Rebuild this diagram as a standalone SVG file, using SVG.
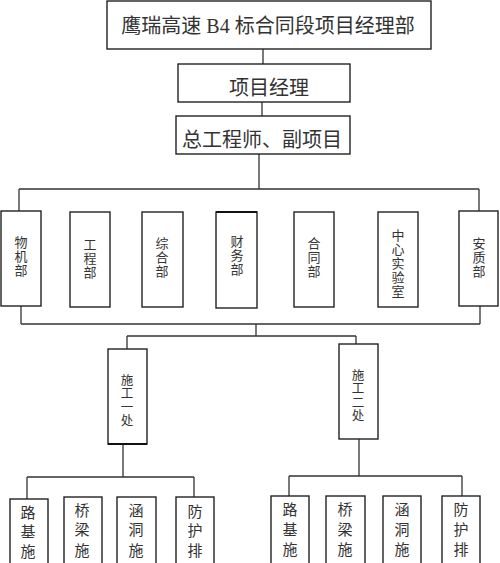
<svg xmlns="http://www.w3.org/2000/svg" width="500" height="563" viewBox="0 0 500 563">
<style>
.box{fill:#fff;stroke:#222;stroke-width:1.4}
.ln{fill:none;stroke:#333;stroke-width:1.3}
text{font-family:"Liberation Serif","Noto Sans CJK SC",serif;fill:#333;text-anchor:middle}
.big{font-size:20px}
.dep{font-size:13px}
.sg{font-size:12.5px}
.sub{font-size:15px}
</style>
<rect width="500" height="563" fill="#fff"/>
<g id="connectors">
<path class="ln" d="M263,49V64M262,102V116M259,154V189M19,189H479M19,189V212M479,189V211"/>
<path class="ln" d="M21,306V324M480,306V324M21,324H480M256,324V336M127,336H356M127,336V349M356,336V344"/>
<path class="ln" d="M123,444V477M27,477H194M27,477V499M194,477V497"/>
<path class="ln" d="M359,439V476M289,476H462M289,476V496M462,476V496"/>
</g>
<g id="n-top"><rect class="box" x="107" y="1" width="324" height="48"/><text class="big" x="268" y="33" font-size="19.5">鹰瑞高速 B4 标合同段项目经理部</text></g>
<g id="n-pm"><rect class="box" x="178" y="64" width="172" height="38"/><text class="big" x="269" y="95">项目经理</text></g>
<g id="n-ce"><rect class="box" x="176" y="116" width="174" height="38"/><text class="big" x="262" y="147">总工程师、副项目</text></g>
<g id="n-wj"><rect class="box" x="1" y="211" width="40" height="95"/><text class="dep"><tspan x="21" y="247">物</tspan><tspan x="21" y="261">机</tspan><tspan x="21" y="275">部</tspan></text></g>
<g id="n-gc"><rect class="box" x="70" y="212" width="40" height="95"/><text class="dep"><tspan x="90" y="249">工</tspan><tspan x="90" y="263">程</tspan><tspan x="90" y="277">部</tspan></text></g>
<g id="n-zh"><rect class="box" x="142" y="212" width="41" height="95"/><text class="dep"><tspan x="162" y="248">综</tspan><tspan x="162" y="262">合</tspan><tspan x="162" y="276">部</tspan></text></g>
<g id="n-cw"><rect class="box" x="216" y="212" width="41" height="96"/><line x1="216" y1="212" x2="257" y2="212" stroke="#111" stroke-width="2"/><text class="dep"><tspan x="237" y="246">财</tspan><tspan x="237" y="260">务</tspan><tspan x="237" y="274">部</tspan></text></g>
<g id="n-ht"><rect class="box" x="294" y="212" width="40" height="95"/><text class="dep"><tspan x="314" y="248">合</tspan><tspan x="314" y="262">同</tspan><tspan x="314" y="276">部</tspan></text></g>
<g id="n-sy"><rect class="box" x="378" y="212" width="40" height="95"/><text class="dep"><tspan x="398" y="240">中</tspan><tspan x="398" y="254">心</tspan><tspan x="398" y="268">实</tspan><tspan x="398" y="282">验</tspan><tspan x="398" y="296">室</tspan></text></g>
<g id="n-az"><rect class="box" x="459" y="211" width="39" height="95"/><text class="dep"><tspan x="479" y="248">安</tspan><tspan x="479" y="262">质</tspan><tspan x="479" y="276">部</tspan></text></g>
<g id="n-sg1"><rect class="box" x="108" y="349" width="39" height="95"/><line x1="108" y1="444" x2="147" y2="444" stroke="#111" stroke-width="2"/><text class="sg"><tspan x="127" y="385">施</tspan><tspan x="127" y="398.3">工</tspan><tspan x="127" y="411.6">一</tspan><tspan x="127" y="425">处</tspan></text></g>
<g id="n-sg2"><rect class="box" x="339" y="344" width="39" height="95"/><text class="sg"><tspan x="358" y="380">施</tspan><tspan x="358" y="393.3">工</tspan><tspan x="358" y="406.6">二</tspan><tspan x="358" y="420">处</tspan></text></g>
<g id="n-l1"><rect class="box" x="10" y="499" width="38" height="70"/><text class="sub"><tspan x="28" y="518">路</tspan><tspan x="28" y="537">基</tspan><tspan x="28" y="557">施</tspan></text></g>
<g id="n-l2"><rect class="box" x="64" y="497" width="38" height="72"/><text class="sub"><tspan x="82" y="516">桥</tspan><tspan x="82" y="535">梁</tspan><tspan x="82" y="556">施</tspan></text></g>
<g id="n-l3"><rect class="box" x="117" y="497" width="39" height="72"/><text class="sub"><tspan x="136" y="516">涵</tspan><tspan x="136" y="535">洞</tspan><tspan x="136" y="556">施</tspan></text></g>
<g id="n-l4"><rect class="box" x="176" y="497" width="38" height="72"/><text class="sub"><tspan x="195" y="517">防</tspan><tspan x="195" y="536">护</tspan><tspan x="195" y="556">排</tspan></text></g>
<g id="n-r1"><rect class="box" x="271" y="496" width="38" height="73"/><text class="sub"><tspan x="290" y="515">路</tspan><tspan x="290" y="535">基</tspan><tspan x="290" y="555">施</tspan></text></g>
<g id="n-r2"><rect class="box" x="326" y="496" width="39" height="73"/><text class="sub"><tspan x="345" y="515">桥</tspan><tspan x="345" y="535">梁</tspan><tspan x="345" y="555">施</tspan></text></g>
<g id="n-r3"><rect class="box" x="383" y="496" width="38" height="73"/><text class="sub"><tspan x="402" y="515">涵</tspan><tspan x="402" y="535">洞</tspan><tspan x="402" y="555">施</tspan></text></g>
<g id="n-r4"><rect class="box" x="442" y="496" width="38" height="73"/><text class="sub"><tspan x="461" y="515">防</tspan><tspan x="461" y="535">护</tspan><tspan x="461" y="555">排</tspan></text></g>
</svg>
